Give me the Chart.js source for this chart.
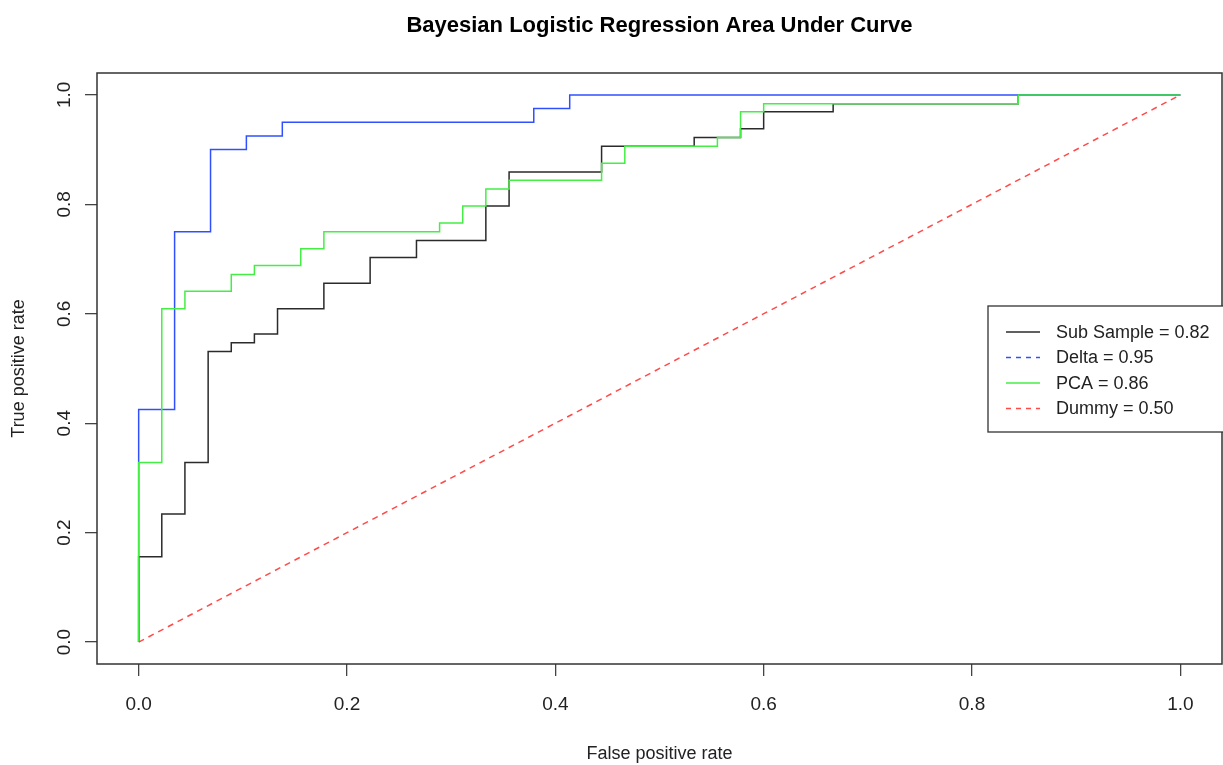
<!DOCTYPE html>
<html>
<head>
<meta charset="utf-8">
<script src="https://cdn.jsdelivr.net/npm/chart.js@4.4.1/dist/chart.umd.min.js"></script>
<style>
  html, body { margin: 0; padding: 0; background: #fff; overflow: hidden; }
  #wrap { width: 1223px; height: 765px; position: relative; }
</style>
</head>
<body>
<div id="wrap"><canvas id="roc" width="1223" height="765"></canvas></div>
<script>
// ---------- data ----------
const chartTitle = 'Bayesian Logistic Regression Area Under Curve';
const seriesNames = ['Sub Sample = 0.82', 'Delta = 0.95', 'PCA = 0.86', 'Dummy = 0.50'];

// Sub Sample (black)
const subFpr = [0, 0, 0.0222, 0.0444, 0.0667, 0.0889, 0.1111, 0.1333, 0.1778, 0.2222, 0.2667, 0.3333, 0.3556, 0.4444, 0.5333, 0.5778, 0.6, 0.6667, 0.8444, 1];
const subTpr = [0, 0.156, 0.234, 0.328, 0.531, 0.547, 0.563, 0.609, 0.656, 0.703, 0.734, 0.797, 0.859, 0.906, 0.922, 0.938, 0.969, 0.984, 1, 1];

// Delta (blue)
const deltaFpr = [0, 0, 0.0345, 0.069, 0.1034, 0.1379, 0.3793, 0.4138, 1];
const deltaTpr = [0, 0.425, 0.75, 0.9, 0.925, 0.95, 0.975, 1, 1];

// PCA (green)
const pcaFpr = [0, 0, 0.0222, 0.0444, 0.0889, 0.1111, 0.1556, 0.1778, 0.2889, 0.3111, 0.3333, 0.3556, 0.4444, 0.4667, 0.5556, 0.5778, 0.6, 0.8444, 1];
const pcaTpr = [0, 0.328, 0.609, 0.641, 0.672, 0.688, 0.719, 0.75, 0.766, 0.797, 0.828, 0.844, 0.875, 0.906, 0.922, 0.969, 0.984, 1, 1];

// Dummy (red dashed diagonal)
const dummyFpr = [0, 1];
const dummyTpr = [0, 1];

const tickValues = [0, 0.2, 0.4, 0.6, 0.8, 1];
const tickLabels = ['0.0', '0.2', '0.4', '0.6', '0.8', '1.0'];

const FONT = "'Liberation Sans', Arial, Helvetica, sans-serif";

function toPoints(xs, ys) {
  return xs.map((x, i) => ({ x: x, y: ys[i] }));
}

const colors = ['#2b2b2b', '#3050ff', '#44ee44', '#ff4a4a'];
const legendDash = [[], [5, 5], [], [5, 5]];

// legend box drawn in the plot like R's legend()
const legendBox = {
  id: 'legendBox',
  afterDraw(chart) {
    const ctx = chart.ctx;
    const x0 = 988, y0 = 306, w = 240, h = 126;
    ctx.save();
    ctx.fillStyle = '#fff';
    ctx.fillRect(x0, y0, w, h);
    ctx.strokeStyle = '#333';
    ctx.lineWidth = 1.3;
    ctx.strokeRect(x0, y0, w, h);
    ctx.font = '18px ' + FONT;
    ctx.textBaseline = 'middle';
    ctx.fillStyle = '#222';
    seriesNames.forEach((name, i) => {
      const y = 332 + i * 25.5;
      ctx.strokeStyle = colors[i];
      ctx.setLineDash(legendDash[i]);
      ctx.lineWidth = 1.5;
      ctx.beginPath();
      ctx.moveTo(1006, y);
      ctx.lineTo(1040, y);
      ctx.stroke();
      ctx.setLineDash([]);
      ctx.fillText(name, 1056, y + 1);
    });
    ctx.restore();
  }
};

// R-style box round the plot region, title centred over it
const plotBox = {
  id: 'plotBox',
  afterDatasetsDraw(chart) {
    const { ctx, chartArea } = chart;
    ctx.save();
    ctx.strokeStyle = '#333';
    ctx.lineWidth = 1.5;
    ctx.strokeRect(chartArea.left, chartArea.top, chartArea.right - chartArea.left, chartArea.bottom - chartArea.top);
    ctx.fillStyle = '#000';
    ctx.font = 'bold 22px ' + FONT;
    ctx.textAlign = 'center';
    ctx.textBaseline = 'middle';
    ctx.fillText(chartTitle, (chartArea.left + chartArea.right) / 2, 26);
    ctx.restore();
  }
};

const lineBase = { fill: false, pointRadius: 0, borderWidth: 1.5, stepped: 'before', tension: 0 };

new Chart(document.getElementById('roc'), {
  type: 'line',
  data: {
    datasets: [
      Object.assign({}, lineBase, { label: seriesNames[0], data: toPoints(subFpr, subTpr), borderColor: colors[0], order: 3 }),
      Object.assign({}, lineBase, { label: seriesNames[1], data: toPoints(deltaFpr, deltaTpr), borderColor: colors[1], order: 2 }),
      Object.assign({}, lineBase, { label: seriesNames[2], data: toPoints(pcaFpr, pcaTpr), borderColor: colors[2], order: 1 }),
      Object.assign({}, lineBase, { label: seriesNames[3], data: toPoints(dummyFpr, dummyTpr), borderColor: colors[3], stepped: false, borderDash: [6, 5], order: 0 })
    ]
  },
  options: {
    responsive: false,
    animation: false,
    layout: { padding: { left: 0, right: 1, top: 73, bottom: 0 } },
    plugins: {
      legend: { display: false },
      tooltip: { enabled: false },
      title: { display: false }
    },
    scales: {
      x: {
        type: 'linear',
        min: -0.04,
        max: 1.04,
        afterBuildTicks: (scale) => { scale.ticks = tickValues.map(v => ({ value: v })); },
        afterFit: (scale) => { scale.height = 101; },
        grid: { drawOnChartArea: false, drawTicks: true, tickLength: 12, tickColor: '#444', lineWidth: 1.3 },
        border: { display: false },
        ticks: {
          autoSkip: false, maxRotation: 0, padding: 17, color: '#222',
          font: { family: FONT, size: 19 },
          callback: (v) => tickLabels[tickValues.indexOf(v)]
        },
        title: {
          display: true, text: 'False positive rate', color: '#222',
          font: { family: FONT, size: 18 }, padding: { top: 0, bottom: 0 }
        }
      },
      y: {
        type: 'linear',
        min: -0.04,
        max: 1.04,
        afterBuildTicks: (scale) => { scale.ticks = tickValues.map(v => ({ value: v })); },
        afterFit: (scale) => { scale.width = 97; },
        grid: { drawOnChartArea: false, drawTicks: true, tickLength: 12, tickColor: '#444', lineWidth: 1.3 },
        border: { display: false },
        ticks: {
          autoSkip: false, minRotation: 90, maxRotation: 90, crossAlign: 'center', padding: 7, color: '#222',
          font: { family: FONT, size: 19 },
          callback: (v) => tickLabels[tickValues.indexOf(v)]
        },
        title: {
          display: true, text: 'True positive rate', color: '#222',
          font: { family: FONT, size: 18 }, padding: { top: 8, bottom: 0 }
        }
      }
    }
  },
  plugins: [plotBox, legendBox]
});
</script>
</body>
</html>
